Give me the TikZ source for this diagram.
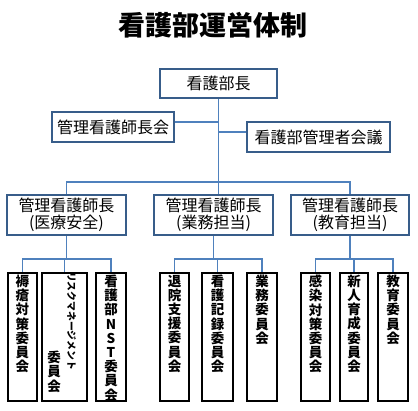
\documentclass[tikz,border=0pt]{standalone}
\usepackage{fontspec}
\setmainfont{Noto Sans CJK JP}
\usetikzlibrary{positioning}
\definecolor{linkblue}{RGB}{79,129,189}
\definecolor{boxblue}{RGB}{56,93,138}

\begin{document}
\begin{tikzpicture}[x=1pt,y=-1pt,
    headbox/.style={draw=boxblue, line width=1.5pt, fill=white, inner sep=0pt, align=center,
      font=\fontsize{16}{17}\selectfont},
    cmtbox/.style={draw=black, line width=2.5pt, minimum height=128, inner sep=0pt},
    cmttext/.style={anchor=north, inner sep=0pt, align=center,
      font=\bfseries\fontsize{13.5}{14.2}\selectfont},
    link/.style={draw=linkblue, line width=1.8pt}]
  \useasboundingbox[fill=white] (0,0) rectangle (418,410);
  % title
  \node[font=\bfseries\fontsize{27}{29}\selectfont] (title) at (212.5,25) {看護部運営体制};
  % top level
  \node[headbox, minimum width=117, minimum height=29] (nb) at (218.5,83.5) {看護部長};
  \node[headbox, minimum width=122, minimum height=30] (mm) at (113,127) {管理看護師長会};
  \node[headbox, minimum width=143, minimum height=30] (mc) at (318.5,137) {看護部管理者会議};
  \coordinate (bar) at (218.5,182);
  \draw[link] (nb.south) -- (bar);
  \draw[link] ([yshift=5]mm.east) -- ([yshift=5]mm.east -| bar);
  \draw[link] ([yshift=5]mc.west) -- ([yshift=5]mc.west -| bar);
  % chiefs
  \node[headbox, minimum width=119, minimum height=40] (ch1) at (66.5,215) {管理看護師長\\(医療安全)};
  \node[headbox, minimum width=119, minimum height=40] (ch2) at (213.5,215) {管理看護師長\\(業務担当)};
  \node[headbox, minimum width=118, minimum height=40] (ch3) at (350,215) {管理看護師長\\(教育担当)};
  \draw[link] (ch1.north) |- (ch3.north |- bar) -- (ch3.north);
  \draw[link] (bar) -- (bar |- ch2.north);
  % committees
  \node[cmtbox, minimum width=29] (cm1) at (22.5,337) {};
  \node[cmtbox, minimum width=45] (cm2) at (64.5,337) {};
  \node[cmtbox, minimum width=30] (cm3) at (111,337) {};
  \node[cmtbox, minimum width=29] (cm4) at (174.5,337) {};
  \node[cmtbox, minimum width=31] (cm5) at (217.5,337) {};
  \node[cmtbox, minimum width=30] (cm6) at (262,337) {};
  \node[cmtbox, minimum width=29] (cm7) at (315.5,337) {};
  \node[cmtbox, minimum width=28] (cm8) at (354,337) {};
  \node[cmtbox, minimum width=30] (cm9) at (393,337) {};
  \foreach \ch/\l/\m/\r in {ch1/cm1/cm2/cm3, ch2/cm4/cm5/cm6, ch3/cm7/cm8/cm9} {
    \draw[link] (\ch.south) -- (\ch.south |- 0,259);
    \draw[link] (\l.north) |- (\r.north |- 0,259) -- (\r.north);
    \draw[link] (\m.north) -- (\m.north |- 0,259);
  }
  \node[cmttext] (tx1) at ([yshift=-3]cm1.north) {褥\\瘡\\対\\策\\委\\員\\会};
  \node[rotate=-90, inner sep=0pt, font=\bfseries\fontsize{9.8}{10}\selectfont] (tx2) at (71.5,321) {リスクマネージメント};
  \node[cmttext] (tx2b) at (54,351) {委\\員\\会};
  \node[cmttext] (tx3) at ([yshift=-3]cm3.north) {看\\護\\部\\N\\S\\T\\委\\員\\会};
  \node[cmttext] (tx4) at ([yshift=-3]cm4.north) {退\\院\\支\\援\\委\\員\\会};
  \node[cmttext] (tx5) at ([yshift=-3]cm5.north) {看\\護\\記\\録\\委\\員\\会};
  \node[cmttext] (tx6) at ([yshift=-3]cm6.north) {業\\務\\委\\員\\会};
  \node[cmttext] (tx7) at ([yshift=-3]cm7.north) {感\\染\\対\\策\\委\\員\\会};
  \node[cmttext] (tx8) at ([yshift=-3]cm8.north) {新\\人\\育\\成\\委\\員\\会};
  \node[cmttext] (tx9) at ([yshift=-3]cm9.north) {教\\育\\委\\員\\会};
\end{tikzpicture}
\end{document}
